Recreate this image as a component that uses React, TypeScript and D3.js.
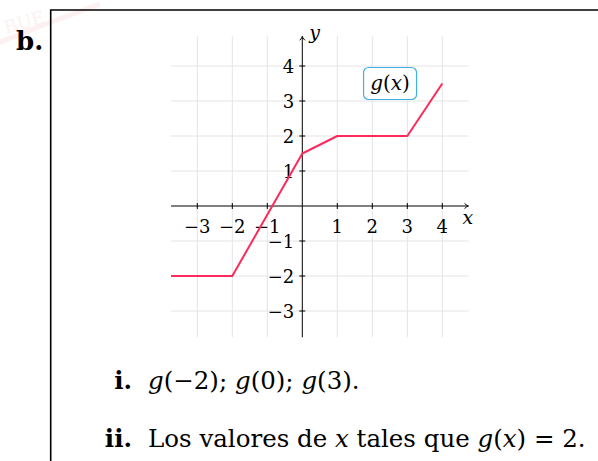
import { useEffect, useRef } from 'react'
import * as d3 from 'd3'

// piecewise-linear g(x)
const gX = [-3.75, -2, 0, 1, 3, 4]
const gY = [-2, -2, 1.5, 2, 2, 3.5]

const xTicks = [-3, -2, -1, 1, 2, 3, 4]
const yTicks = [-3, -2, -1, 1, 2, 3, 4]
const gridX = [-3, -2, -1, 1, 2, 3, 4]
const gridY = [-3, -2, -1, 1, 2, 3, 4]

const xDomain = [-3.75, 4.75]
const yDomain = [-3.75, 4.85]

const serif = '"DejaVu Serif", serif'
const minus = (d: number) => (d < 0 ? '\u2212' + Math.abs(d) : String(d))

const App = () => {
  const ref = useRef<SVGSVGElement>(null)

  useEffect(() => {
    const svg = d3.select(ref.current)
    svg.selectAll('*').remove()

    const x = d3.scaleLinear().domain(xDomain).range([171.05, 468.55])
    const y = d3.scaleLinear().domain(yDomain).range([337.25, 36.25])

    // faint watermark in the corner
    const wm = svg.append('g').attr('opacity', 0.07)
    wm.append('path')
      .attr('d', 'M -5 44 Q 40 26 100 4')
      .attr('fill', 'none')
      .attr('stroke', '#d94040')
      .attr('stroke-width', 5)
    wm.append('text')
      .attr('transform', 'translate(6,34) rotate(-16)')
      .attr('font-family', serif)
      .attr('font-size', 18)
      .attr('fill', '#d94040')
      .text('BUE')

    // frame
    svg.append('path')
      .attr('d', 'M 50.7 461 V 10 H 598')
      .attr('fill', 'none')
      .attr('stroke', '#000')
      .attr('stroke-width', 1.6)

    svg.append('text')
      .attr('x', 16)
      .attr('y', 50)
      .attr('font-family', serif)
      .attr('font-weight', 'bold')
      .attr('font-size', 26)
      .text('b.')

    // grid
    const grid = svg.append('g').attr('stroke', '#e4e4e4').attr('stroke-width', 1)
    grid.selectAll('.gx').data(gridX).enter().append('line')
      .attr('x1', d => x(d)).attr('x2', d => x(d))
      .attr('y1', y(yDomain[0])).attr('y2', y(yDomain[1]))
    grid.selectAll('.gy').data(gridY).enter().append('line')
      .attr('y1', d => y(d)).attr('y2', d => y(d))
      .attr('x1', x(xDomain[0])).attr('x2', x(xDomain[1]))

    // axes
    const ax = svg.append('g').attr('stroke', '#000').attr('stroke-width', 1)
    ax.append('line')
      .attr('x1', x(xDomain[0])).attr('x2', x(xDomain[1]) - 1)
      .attr('y1', y(0)).attr('y2', y(0))
    ax.append('line')
      .attr('x1', x(0)).attr('x2', x(0))
      .attr('y1', y(yDomain[0])).attr('y2', y(yDomain[1]) + 1)
    ax.append('path')
      .attr('d', `M ${x(xDomain[1]) - 4} ${y(0) - 2.6} Q ${x(xDomain[1]) - 1.5} ${y(0)} ${x(xDomain[1])} ${y(0)} Q ${x(xDomain[1]) - 1.5} ${y(0)} ${x(xDomain[1]) - 4} ${y(0) + 2.6}`)
      .attr('fill', 'none')
    ax.append('path')
      .attr('d', `M ${x(0) - 2.6} ${y(yDomain[1]) + 4} Q ${x(0)} ${y(yDomain[1]) + 1.5} ${x(0)} ${y(yDomain[1])} Q ${x(0)} ${y(yDomain[1]) + 1.5} ${x(0) + 2.6} ${y(yDomain[1]) + 4}`)
      .attr('fill', 'none')
    ax.selectAll('.tx').data(xTicks).enter().append('line')
      .attr('x1', d => x(d)).attr('x2', d => x(d))
      .attr('y1', y(0) - 3).attr('y2', y(0) + 3)
    ax.selectAll('.ty').data(yTicks).enter().append('line')
      .attr('y1', d => y(d)).attr('y2', d => y(d))
      .attr('x1', x(0) - 3).attr('x2', x(0) + 3)

    // tick labels
    svg.selectAll('.lx').data(xTicks).enter().append('text')
      .attr('x', d => x(d))
      .attr('y', y(0) + 27)
      .attr('text-anchor', 'middle')
      .attr('font-family', serif)
      .attr('font-size', 18)
      .text(minus)
    svg.selectAll('.ly').data(yTicks).enter().append('text')
      .attr('x', x(0) - 8)
      .attr('y', d => y(d) + 7)
      .attr('text-anchor', 'end')
      .attr('font-family', serif)
      .attr('font-size', 18)
      .text(minus)

    svg.append('text')
      .attr('x', x(xDomain[1]) - 6)
      .attr('y', y(0) + 18)
      .attr('font-family', serif)
      .attr('font-style', 'italic')
      .attr('font-size', 19)
      .text('x')
    svg.append('text')
      .attr('x', x(0) + 7)
      .attr('y', y(yDomain[1]) + 3)
      .attr('font-family', serif)
      .attr('font-style', 'italic')
      .attr('font-size', 19)
      .text('y')

    // the function
    const line = d3.line<number>()
      .x((_, i) => x(gX[i]))
      .y(d => y(d))
    svg.append('path')
      .datum(gY)
      .attr('d', line)
      .attr('fill', 'none')
      .attr('stroke', '#fd2a5d')
      .attr('stroke-width', 2)
      .attr('stroke-linejoin', 'round')

    // legend box
    const lx = x(1.75), ly = y(4)
    svg.append('rect')
      .attr('x', lx).attr('y', ly + 1.5)
      .attr('width', 53).attr('height', 32)
      .attr('rx', 5)
      .attr('fill', '#fff')
      .attr('stroke', '#3fb0e6')
      .attr('stroke-width', 1.2)
    const lt = svg.append('text')
      .attr('x', lx + 26.5).attr('y', ly + 24)
      .attr('text-anchor', 'middle')
      .attr('font-family', serif)
      .attr('font-size', 20)
    lt.append('tspan').attr('font-style', 'italic').text('g')
    lt.append('tspan').text('(')
    lt.append('tspan').attr('font-style', 'italic').text('x')
    lt.append('tspan').text(')')

    // questions
    const q = svg.append('g').attr('font-family', serif).attr('font-size', 24.5)
    q.append('text').attr('x', 132).attr('y', 389).attr('text-anchor', 'end')
      .attr('font-weight', 'bold').text('i.')
    q.append('text').attr('x', 132).attr('y', 447).attr('text-anchor', 'end')
      .attr('font-weight', 'bold').text('ii.')

    const t1 = q.append('text').attr('x', 148).attr('y', 389)
    const parts1: [string, boolean][] = [
      ['g', true], ['(\u22122); ', false], ['g', true], ['(0); ', false], ['g', true], ['(3).', false],
    ]
    parts1.forEach(([s, it]) => t1.append('tspan').attr('font-style', it ? 'italic' : 'normal').text(s))

    const t2 = q.append('text').attr('x', 148).attr('y', 447)
    const parts2: [string, boolean][] = [
      ['Los valores de ', false], ['x', true], [' tales que ', false],
      ['g', true], ['(', false], ['x', true], [') = 2.', false],
    ]
    parts2.forEach(([s, it]) => t2.append('tspan').attr('font-style', it ? 'italic' : 'normal').text(s))
  }, [])

  return (
    <div style={{ position: 'absolute', left: 0, top: 0 }}>
      <svg ref={ref} width={598} height={461} style={{ display: 'block', background: '#fff' }} />
    </div>
  )
}

export default App
